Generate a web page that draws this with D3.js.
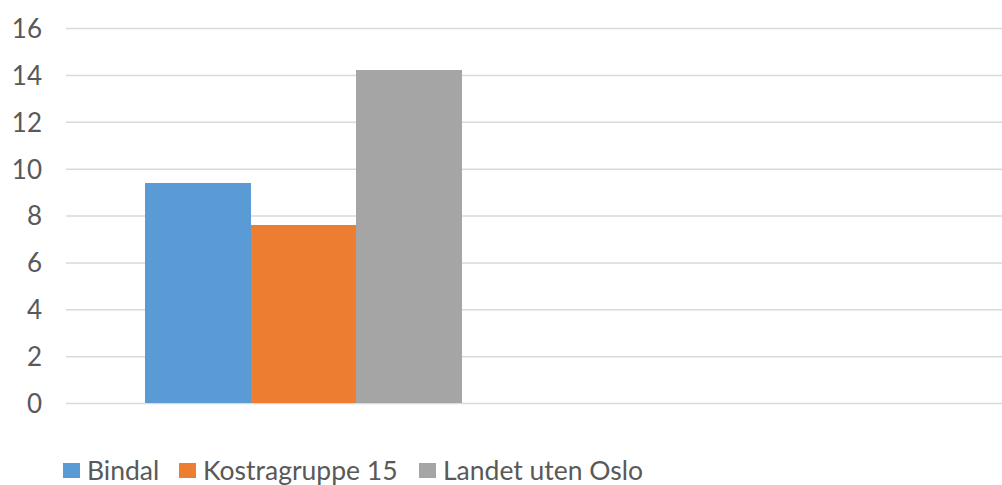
<!DOCTYPE html>
<html>
<head>
<meta charset="utf-8">
<script src="https://cdn.jsdelivr.net/npm/d3@7"></script>
<style>
  html, body { margin: 0; padding: 0; background: #fff; overflow: hidden; }
  svg { display: block; }
  text { font-family: Lato, "Open Sans", sans-serif; fill: #595959; }
</style>
</head>
<body>
<svg id="chart" width="1002" height="485"></svg>
<script>
const categories = ["", " "];
const seriesNames = ["Bindal", "Kostragruppe 15", "Landet uten Oslo"];
const bindalValues = [9.4, null];
const kostraValues = [7.6, null];
const landetValues = [14.2, null];
const yTicks = [0, 2, 4, 6, 8, 10, 12, 14, 16];
const colors = ["#5B9BD5", "#ED7D31", "#A5A5A5"];

const seriesValues = [bindalValues, kostraValues, landetValues];

const svg = d3.select("#chart");
const plot = { left: 66, right: 1016, top: 28, bottom: 403 };

const y = d3.scaleLinear().domain([0, 16]).range([plot.bottom, plot.top]);
const x0 = d3.scaleBand().domain(categories).range([plot.left, plot.right]).paddingInner(0).paddingOuter(0);
const bw = x0.bandwidth();
const x1 = d3.scaleBand().domain(seriesNames).range([bw / 6, bw * 5 / 6]).padding(0);

// gridlines
const gridAxis = d3.axisLeft(y).tickValues(yTicks).tickSize(-(1002 - plot.left)).tickFormat("");
const grid = svg.append("g").attr("transform", `translate(${plot.left},0)`).call(gridAxis);
grid.select(".domain").remove();
grid.selectAll("line").attr("stroke", "#d9d9d9").attr("stroke-width", 1.5);

// y tick labels
const yAxis = d3.axisLeft(y).tickValues(yTicks).tickSize(0).tickPadding(0);
const ya = svg.append("g").attr("transform", `translate(42,0)`).call(yAxis);
ya.select(".domain").remove();
ya.selectAll("text").attr("font-size", 26).attr("fill", "#595959")
  .attr("font-family", "Lato, 'Open Sans', sans-serif").attr("dy", "0.36em");

// bars
categories.forEach((cat, ci) => {
  const g = svg.append("g").attr("transform", `translate(${x0(cat)},0)`);
  seriesNames.forEach((name, si) => {
    const v = seriesValues[si][ci];
    if (v == null) return;
    g.append("rect")
      .attr("x", x1(name))
      .attr("width", x1.bandwidth())
      .attr("y", y(v))
      .attr("height", y(0) - y(v))
      .attr("fill", colors[si])
      .attr("shape-rendering", "crispEdges");
  });
});

// legend
const legendItems = [
  { name: seriesNames[0], sx: 63, tx: 87 },
  { name: seriesNames[1], sx: 179, tx: 203 },
  { name: seriesNames[2], sx: 419, tx: 443 }
];
const lg = svg.append("g");
legendItems.forEach((it, i) => {
  lg.append("rect").attr("x", it.sx).attr("y", 463).attr("width", 17).attr("height", 15).attr("fill", colors[i]);
  lg.append("text").attr("x", it.tx).attr("y", 480).attr("font-size", 26.5).text(it.name);
});
</script>
</body>
</html>
